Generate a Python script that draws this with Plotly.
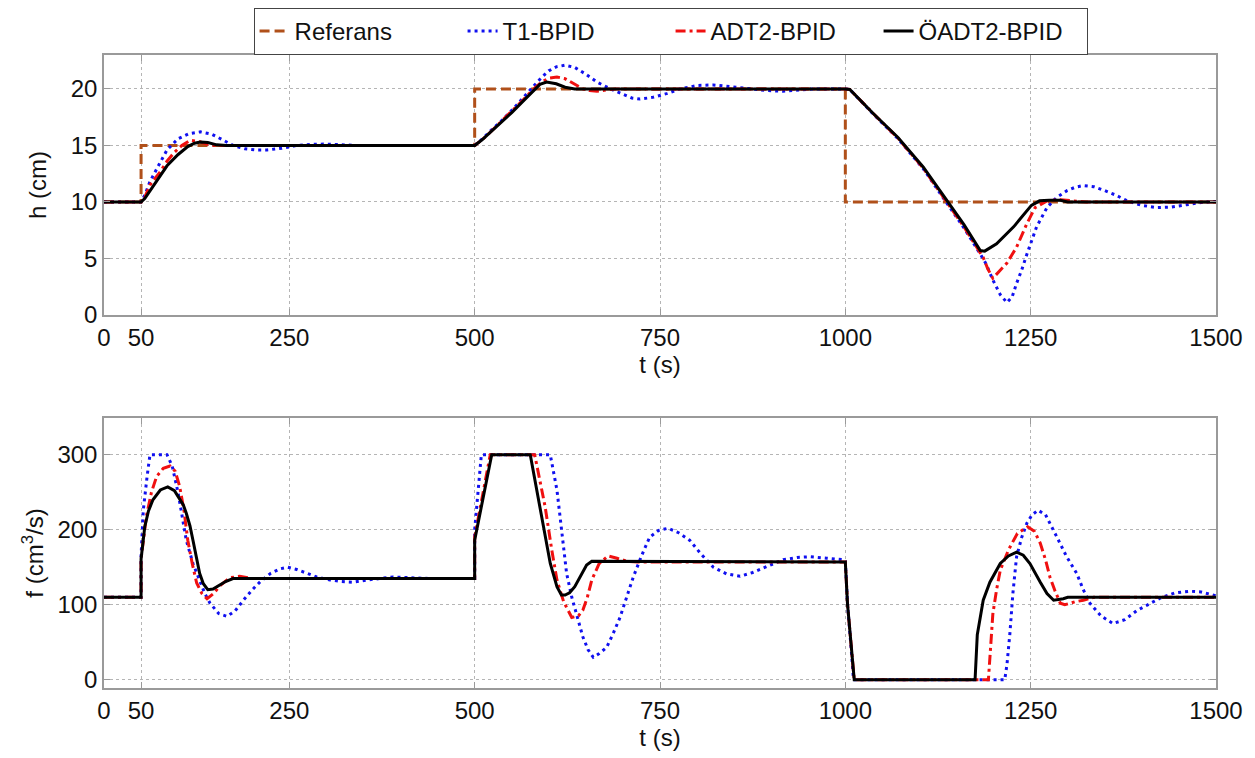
import plotly.graph_objects as go

# ---------------- data: h (cm) ----------------
t_ref = [0, 50, 50, 500, 500, 1000, 1000, 1500]
h_ref = [10, 10, 15, 15, 20, 20, 10, 10]

t_h_t1 = [0, 50, 55, 62, 75, 85, 100, 115, 130, 145, 160, 174, 190, 205, 220, 240, 260, 280, 300, 320, 340,
          500, 510, 520, 535, 550, 565, 578, 590, 600, 610, 622, 635, 650, 665, 683, 700, 712, 723, 740, 760,
          777, 800, 822, 845, 870, 895, 916, 940, 960, 1000, 1006, 1038, 1071, 1105, 1137, 1160, 1182, 1190,
          1199, 1209, 1218, 1225, 1231, 1238, 1245, 1258, 1272, 1285, 1299, 1310, 1321, 1335, 1350, 1365,
          1380, 1400, 1420, 1440, 1460, 1480, 1500]
h_t1 = [10, 10, 10.6, 11.8, 13.4, 14.6, 15.6, 16.05, 16.2, 16.0, 15.5, 15.0, 14.7, 14.6, 14.6, 14.75, 15.0, 15.1,
        15.12, 15.05, 15.0,
        15, 15.55, 16.2, 17.1, 18.1, 19.2, 20.2, 21.0, 21.6, 21.95, 22.1, 21.9, 21.3, 20.6, 20.0, 19.5, 19.2,
        19.1, 19.25, 19.6, 20.0, 20.3, 20.35, 20.2, 20.0, 19.85, 19.8, 19.9, 20.0, 20, 19.95, 17.75, 15.6,
        12.95, 9.95, 7.7, 5.4, 4.5, 3.1, 1.8, 1.1, 1.6, 2.8, 4.0, 5.4, 7.8, 9.5, 10.4, 11.0, 11.3, 11.45,
        11.35, 11.0, 10.6, 10.1, 9.7, 9.5, 9.55, 9.75, 9.95, 10.05]

t_h_adt2 = [0, 50, 55, 62, 75, 85, 95, 105, 116, 128, 140, 150, 500, 510, 520, 535, 550, 565, 578, 590, 600,
            611, 622, 635, 646, 655, 665, 678, 690, 1000, 1006, 1038, 1071, 1105, 1137, 1160, 1182, 1186,
            1192, 1199, 1208, 1218, 1231, 1245, 1256, 1272, 1290, 1312, 1325, 1500]
h_adt2 = [10, 10, 10.4, 11.5, 12.6, 13.6, 14.4, 15.0, 15.45, 15.35, 15.1, 15.0, 15, 15.5, 16.1, 17.05, 18.0,
          19.0, 19.9, 20.6, 20.95, 21.05, 20.9, 20.4, 20.0, 19.85, 19.8, 19.9, 20.0, 20, 19.95, 17.8, 15.65,
          13.0, 10.0, 7.8, 5.5, 5.1, 4.1, 3.25, 3.9, 4.6, 6.0, 8.1, 9.5, 10.1, 10.2, 10.05, 10.0, 10]

t_h_oadt2 = [0, 50, 55, 62, 75, 85, 100, 113, 122, 130, 140, 152, 165, 500, 510, 520, 535, 550, 565, 578, 588,
             597, 610, 622, 635, 1000, 1006, 1038, 1071, 1105, 1137, 1160, 1182, 1188, 1204, 1227, 1251, 1262,
             1275, 1290, 1300, 1500]
h_oadt2 = [10, 10, 10.3, 11.0, 12.2, 13.2, 14.2, 14.9, 15.2, 15.3, 15.25, 15.05, 15, 15, 15.5, 16.1, 17.0,
           17.9, 18.9, 19.8, 20.4, 20.6, 20.45, 20.15, 20.0, 20, 19.95, 17.8, 15.7, 13.1, 10.1, 8.0, 5.7,
           5.65, 6.3, 7.8, 9.7, 10.1, 10.15, 10.15, 10.0, 10]

# ---------------- data: f (cm^3/s) ----------------
t_f_t1 = [0, 50, 50, 53, 58, 62, 85, 92, 100, 106, 111, 120, 129, 136, 143, 155, 166, 177, 188, 200, 211, 225,
          238, 248, 260, 273, 287, 305, 320, 336, 355, 390, 438, 500, 500, 509, 602, 611, 617, 624, 631, 638,
          646, 653, 660, 668, 678, 687, 696, 705, 714, 725, 736, 748, 761, 775, 790, 805, 822, 840, 858, 875,
          889, 902, 916, 935, 952, 975, 997, 1000, 1003, 1008, 1011, 1215, 1218, 1222, 1226, 1231, 1238,
          1245, 1252, 1260, 1270, 1285, 1298, 1312, 1321, 1330, 1345, 1361, 1377, 1393, 1410, 1425, 1445,
          1465, 1480, 1496, 1500]
f_t1 = [110, 110, 165, 226, 270, 300, 300, 285, 249, 215, 186, 155, 133, 115, 102, 88, 84.5, 92, 106, 120, 131,
        142, 148, 150, 147, 142, 137, 133, 131, 130, 133, 137, 135, 135, 200, 300, 300, 253, 200, 142, 110, 84,
        57, 40, 30, 35, 43, 62, 83, 110, 137, 165, 190, 199, 202, 196, 186, 168, 150, 141, 138, 143, 149, 155,
        160, 163, 164, 162, 160, 158, 100, 40, 0, 0, 20, 62, 115, 164, 190, 209, 220, 226, 220, 191, 165, 142,
        120, 102, 85, 75, 80, 92, 101, 109, 116, 118, 117, 113, 112]

t_f_adt2 = [0, 50, 50, 57, 64, 71, 80, 89, 96, 102, 108, 113, 119, 125, 132, 139, 148, 157, 170, 183, 200, 500,
            500, 521, 581, 595, 604, 611, 620, 631, 640, 646, 652, 658, 668, 680, 692, 705, 720, 1000, 1003,
            1008, 1012, 1193, 1199, 1204, 1209, 1220, 1232, 1246, 1255, 1263, 1270, 1276, 1283, 1290, 1296,
            1310, 1321, 1335, 1500]
f_adt2 = [110, 110, 161, 217, 250, 271, 282, 285, 278, 258, 225, 186, 155, 129, 115, 108, 115, 126, 136, 138,
          135, 135, 190, 300, 300, 231, 173, 133, 104, 83, 85, 93, 110, 133, 155, 165, 162, 158, 157, 157, 100,
          45, 0, 0, 88, 120, 146, 173, 195, 204, 198, 182, 160, 137, 118, 102, 100, 104, 106, 110, 110]

t_f_oadt2 = [0, 50, 50, 55, 60, 66, 76, 86, 95, 102, 107, 111, 116, 120, 125, 129, 134, 140, 147, 155, 164, 174,
             500, 500, 523, 575, 588, 602, 611, 617, 622, 628, 635, 643, 651, 658, 665, 687, 1000, 1003, 1008,
             1012, 1175, 1178, 1186, 1195, 1209, 1220, 1231, 1240, 1249, 1256, 1263, 1272, 1281, 1294, 1300,
             1500]
f_oadt2 = [110, 110, 161, 204, 225, 240, 253, 257, 252, 240, 233, 222, 205, 186, 162, 142, 128, 120, 121, 126,
           131, 135, 135, 186, 300, 300, 231, 155, 124, 113, 113, 116, 124, 139, 153, 158, 158, 157, 157, 100,
           45, 0, 0, 60, 106, 130, 155, 165, 170, 166, 155, 142, 130, 115, 106, 108, 110, 110]

x_ticks = [0, 50, 250, 500, 750, 1000, 1250, 1500]
h_ticks = [0, 5, 10, 15, 20]
f_ticks = [0, 100, 200, 300]
names = ["Referans", "T1-BPID", "ADT2-BPID", "ÖADT2-BPID"]

# ---------------- styles ----------------
FONT = "Liberation Sans, Arial, sans-serif"
st_ref = dict(color="#B0501A", width=3, dash="10px,5px")
st_t1 = dict(color="#1010F0", width=3, dash="3px,4px")
st_adt2 = dict(color="#F01010", width=3, dash="10px,4px,3px,4px")
st_oadt2 = dict(color="#000000", width=3)

fig = go.Figure()
fig.add_trace(go.Scatter(x=t_ref, y=h_ref, mode="lines", name=names[0], line=st_ref, xaxis="x", yaxis="y"))
fig.add_trace(go.Scatter(x=t_h_t1, y=h_t1, mode="lines", name=names[1], line=st_t1, xaxis="x", yaxis="y"))
fig.add_trace(go.Scatter(x=t_h_adt2, y=h_adt2, mode="lines", name=names[2], line=st_adt2, xaxis="x", yaxis="y"))
fig.add_trace(go.Scatter(x=t_h_oadt2, y=h_oadt2, mode="lines", name=names[3], line=st_oadt2, xaxis="x", yaxis="y"))
fig.add_trace(go.Scatter(x=t_f_t1, y=f_t1, mode="lines", name=names[1], line=st_t1, xaxis="x2", yaxis="y2",
                         showlegend=False))
fig.add_trace(go.Scatter(x=t_f_adt2, y=f_adt2, mode="lines", name=names[2], line=st_adt2, xaxis="x2", yaxis="y2",
                         showlegend=False))
fig.add_trace(go.Scatter(x=t_f_oadt2, y=f_oadt2, mode="lines", name=names[3], line=st_oadt2, xaxis="x2",
                         yaxis="y2", showlegend=False))

axis_common = dict(
    showline=True, linecolor="#9a9a9a", linewidth=1.5, mirror="ticks",
    ticks="inside", ticklen=6, tickcolor="#9a9a9a",
    showgrid=True, gridcolor="#b5b5b5", griddash="dot", gridwidth=1,
    zeroline=False, automargin=False,
    tickfont=dict(family=FONT, size=24, color="#111"),
)

fig.update_layout(
    width=1255, height=758,
    paper_bgcolor="white", plot_bgcolor="white",
    margin=dict(l=96, r=47, t=0, b=78),
    font=dict(family=FONT, size=24, color="#111"),
    xaxis=dict(domain=[0, 1], anchor="y", range=[0, 1500], tickvals=x_ticks,
               title=dict(text="t (s)", standoff=4, font=dict(size=24)), **axis_common),
    yaxis=dict(domain=[0.5485, 0.9309], anchor="x", range=[0, 23], tickvals=h_ticks,
               title=dict(text="h (cm)", standoff=17, font=dict(size=24)), **axis_common),
    xaxis2=dict(domain=[0, 1], anchor="y2", range=[0, 1500], tickvals=x_ticks,
                title=dict(text="t (s)", standoff=4, font=dict(size=24)), **axis_common),
    yaxis2=dict(domain=[0, 0.3971], anchor="x2", range=[-11, 349], tickvals=f_ticks,
                title=dict(text="f (cm<sup>3</sup>/s)", standoff=7, font=dict(size=24)), **axis_common),
    legend=dict(orientation="h", x=0.5095, xanchor="center", y=1.0, yanchor="top",
                bgcolor="white", bordercolor="#444", borderwidth=1,
                font=dict(family=FONT, size=24, color="#111"),
                entrywidth=163, entrywidthmode="pixels",
                traceorder="normal"),
    showlegend=True,
)

fig.write_html("out.html")
